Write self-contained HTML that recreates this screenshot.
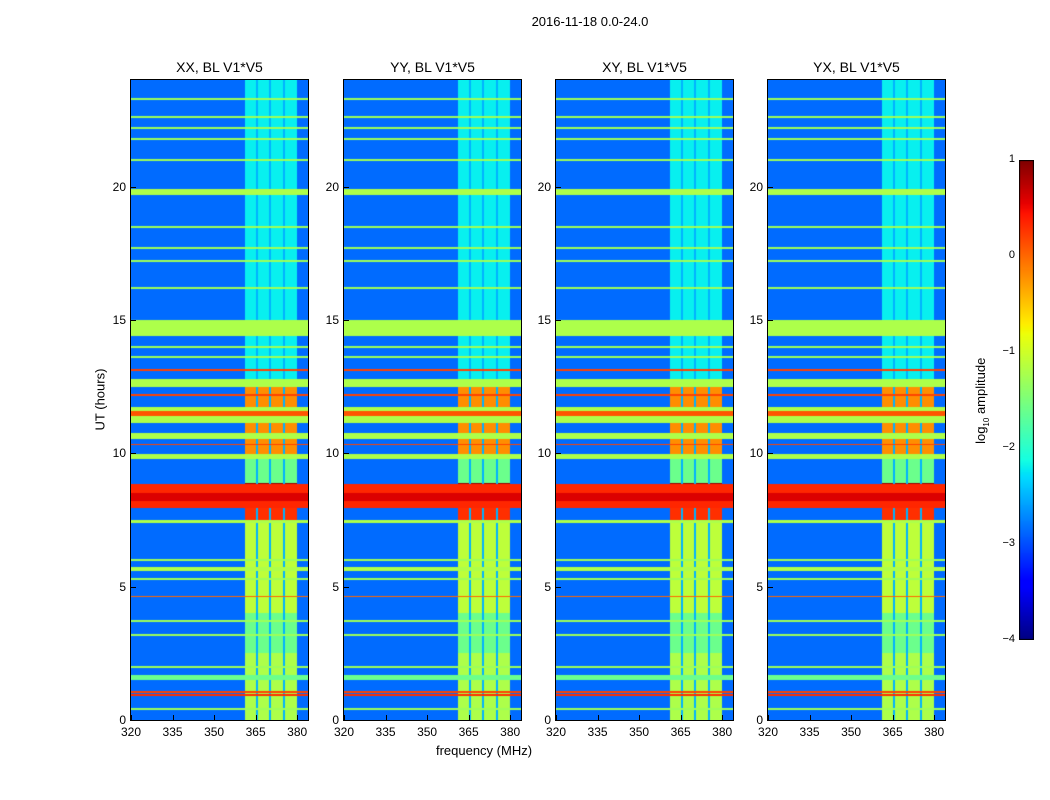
<!DOCTYPE html>
<html><head><meta charset="utf-8"><style>
body{margin:0;background:#fff;width:1050px;height:800px;position:relative;overflow:hidden;font-family:"Liberation Sans",sans-serif;}
.t{position:absolute;font-size:12px;color:#000;white-space:nowrap;}
canvas{position:absolute;}
</style></head><body>
<div class="t" style="left:0;width:1180px;text-align:center;top:14px;font-size:13px">2016-11-18 0.0-24.0</div>
<div class="t" style="left:40px;top:392px;width:120px;text-align:center;transform:rotate(-90deg);font-size:13px">UT (hours)</div>
<div class="t" style="left:384px;width:200px;text-align:center;top:743px;font-size:13px">frequency (MHz)</div>
<div id="root"></div>
<canvas id="cb" width="15" height="480" style="left:1019px;top:160px"></canvas>
<div class="t" style="left:922px;top:392px;width:120px;text-align:center;transform:rotate(-90deg);font-size:13px">log<sub style="font-size:8px">10</sub> amplitude</div>
<script>
// Data
const panelTitles=["XX, BL V1*V5","YY, BL V1*V5","XY, BL V1*V5","YX, BL V1*V5"];
const xTicks=[320,335,350,365,380];
const yTicks=[0,5,10,15,20];
const cbTicks=[1,0,-1,-2,-3,-4];
const backgroundValue=-2.85;
const channelBlocks=[[361,365],[365.7,369.7],[370.6,374.7],[375.6,379.8]];
const columnSegments=[[0,2.5,-1.2],[2.5,4,-1.6],[4,7.4,-1.1],[7.4,7.95,0.3],[7.95,8.9,0.9],[8.9,9.8,-1.6],[9.8,12.6,-0.2],[12.6,24,-2.2]];
const bands=[[14.4,15.0,-1.2],[19.7,19.9,-1.2],[12.5,12.8,-1.2],[11.14,11.74,-1.2],[11.4,11.6,0.1],[10.54,10.76,-1.2],[9.79,9.97,-1.2],[7.95,8.85,0.35],[8.2,8.5,0.6],[7.4,7.5,-1.2],[5.6,5.75,-1.2],[1.5,1.7,-1.6],[1.0,1.1,0.2],[13.1,13.16,0.2],[12.15,12.22,0.2],[10.3,10.36,0.2],[4.6,4.66,0.0],[0.9,0.96,0.3]];
const thinLines=[23.3,22.6,22.2,21.8,21.0,18.5,17.7,17.2,16.2,14.0,13.6,6.0,5.3,3.7,3.2,2.0,0.4];
// Layout
const panelLefts=[131,344,556,768], PT=80, PW=177, PH=640, fMin=320, fMax=320+177/2.77, hMax=24;
const xs=f=>(f-fMin)/(fMax-fMin)*PW, ys=h=>PH-h/hMax*PH;
function interp(pts,t){for(let i=1;i<pts.length;i++){if(t<=pts[i][0]){const a=pts[i-1],b=pts[i];return a[1]+(b[1]-a[1])*(t-a[0])/(b[0]-a[0]);}}return pts[pts.length-1][1];}
const R=[[0,0],[0.35,0],[0.66,1],[0.89,1],[1,0.5]],G=[[0,0],[0.125,0],[0.375,1],[0.64,1],[0.91,0],[1,0]],B=[[0,0.5],[0.11,1],[0.34,1],[0.65,0],[1,0]];
function jet(v){const t=Math.max(0,Math.min(1,(v+4)/5));return [R,G,B].map(p=>Math.round(255*interp(p,t)));}
function valueAt(f,h){
  let v=backgroundValue;
  if(f>=channelBlocks[0][0]&&f<=channelBlocks[channelBlocks.length-1][1]){
    let inBlk=channelBlocks.some(b=>f>=b[0]&&f<=b[1]);
    let cv=-2.2;for(const s of columnSegments) if(h>=s[0]&&h<s[1]) cv=s[2];
    v=inBlk?cv:Math.min(cv,-2.5);
  }
  for(const l of thinLines) if(Math.abs(h-l)<0.035) v=-1.3;
  for(const b of bands) if(h>=b[0]&&h<b[1]) v=b[2];
  return v;
}
const root=document.getElementById('root');
panelLefts.forEach((L,i)=>{
  const cv=document.createElement('canvas');cv.width=PW;cv.height=PH;cv.style.left=L+'px';cv.style.top=PT+'px';
  
  
  root.appendChild(cv);
  const ctx=cv.getContext('2d'),img=ctx.createImageData(PW,PH);
  for(let y=0;y<PH;y++){const h=(PH-y-0.5)/PH*hMax;for(let x=0;x<PW;x++){const f=fMin+(x+0.5)/PW*(fMax-fMin);const c=jet(valueAt(f,h));const k=(y*PW+x)*4;img.data[k]=c[0];img.data[k+1]=c[1];img.data[k+2]=c[2];img.data[k+3]=255;}}
  ctx.putImageData(img,0,0);
  const fr=document.createElement('div');fr.style.cssText=`position:absolute;left:${L-1}px;top:${PT-1}px;width:${PW}px;height:${PH}px;border:1px solid #000`;
  
  
  root.appendChild(fr);
  const tt=document.createElement('div');tt.className='t';tt.style.cssText=`left:${L}px;width:${PW}px;text-align:center;top:59px;font-size:14px`;tt.textContent=panelTitles[i];
  
  
  root.appendChild(tt);
  xTicks.forEach(f=>{const x=L+xs(f);
    const lb=document.createElement('div');lb.className='t';lb.style.cssText=`left:${x-20}px;width:40px;text-align:center;top:725px`;lb.textContent=f;
    
    
    root.appendChild(lb);
    const tk=document.createElement('div');tk.style.cssText=`position:absolute;left:${x}px;top:${PT+PH-5}px;width:1px;height:5px;background:#000`;
    
    
    root.appendChild(tk);});
  yTicks.forEach(h=>{const y=PT+ys(h);
    const lb=document.createElement('div');lb.className='t';lb.style.cssText=`left:${L-45}px;width:40px;text-align:right;top:${y-7}px`;lb.textContent=h;
    
    
    root.appendChild(lb);
    const tk=document.createElement('div');tk.style.cssText=`position:absolute;left:${L}px;top:${y}px;width:5px;height:1px;background:#000`;
    
    
    root.appendChild(tk);});
});
// colorbar
const cb=document.getElementById('cb').getContext('2d');
for(let y=0;y<480;y++){const v=1-y/480*5;const c=jet(v);cb.fillStyle=`rgb(${c})`;cb.fillRect(0,y,15,1);}
cb.strokeStyle='#000';cb.strokeRect(0.5,0.5,14,479);
cbTicks.forEach(v=>{const y=160+(1-v)/5*480;
  const lb=document.createElement('div');lb.className='t';lb.style.cssText=`left:${975}px;width:40px;text-align:right;top:${y-7}px;font-size:11px`;lb.textContent=String(v).replace('-','\u2212');
  
  
  root.appendChild(lb);});
</script>
</body></html>
